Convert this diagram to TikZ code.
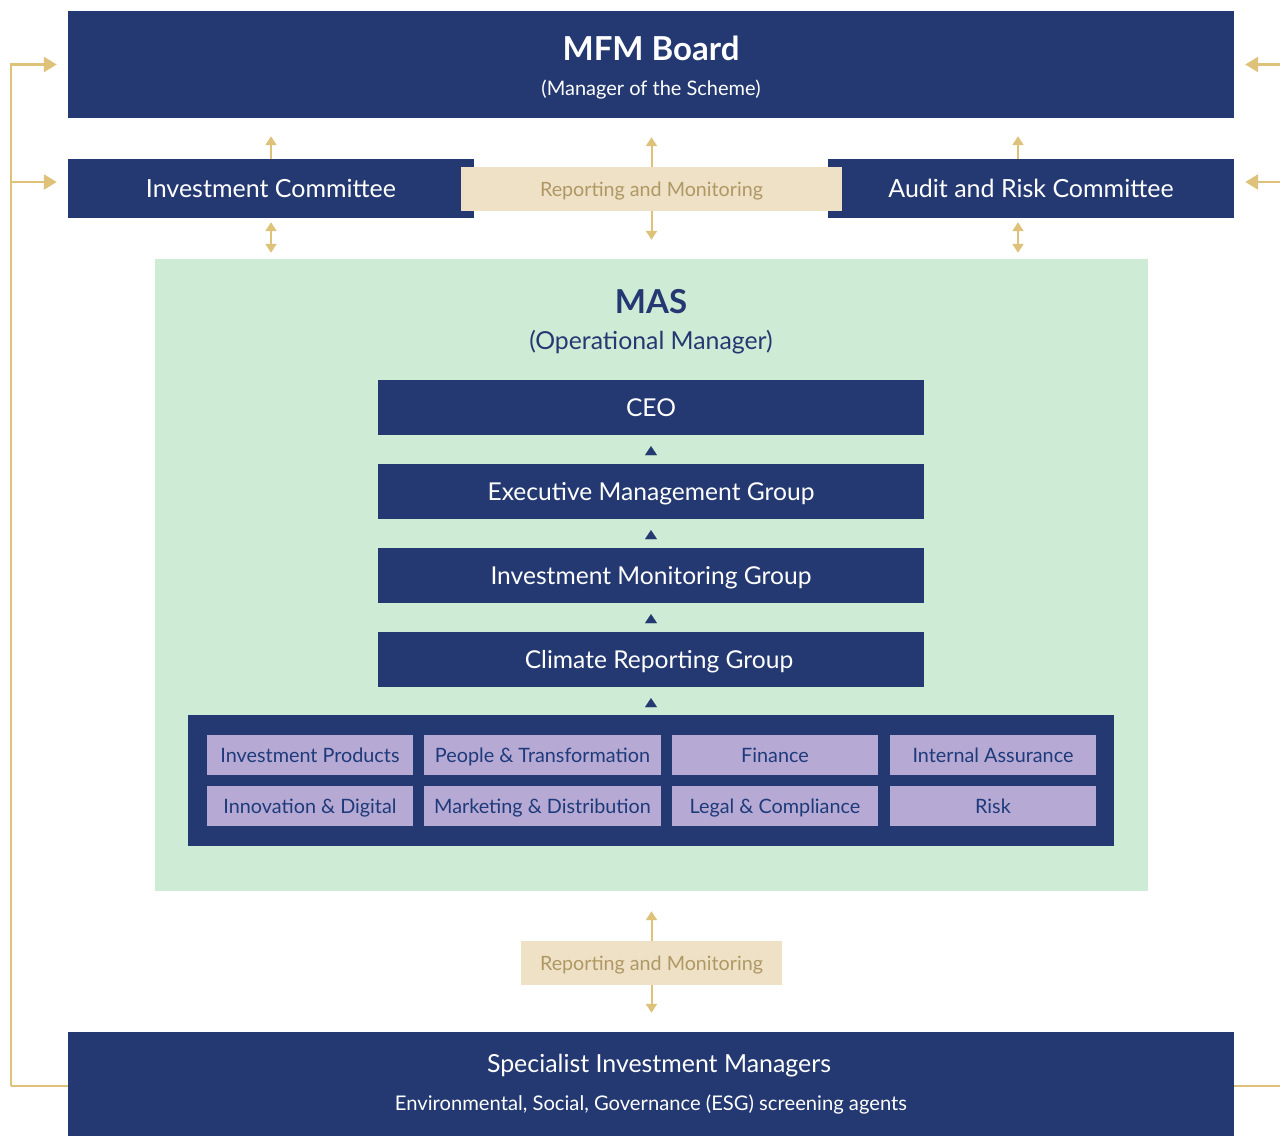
\documentclass[tikz,border=0pt]{standalone}
\usepackage{fontspec}
\setmainfont{Lato}
\usetikzlibrary{arrows.meta}
\definecolor{navy}{RGB}{36,57,113}
\definecolor{gold}{RGB}{222,194,122}
\definecolor{mint}{RGB}{206,235,214}
\definecolor{lav}{RGB}{182,170,212}
\definecolor{sand}{RGB}{238,225,198}
\definecolor{sandtext}{RGB}{176,152,100}
\definecolor{deptext}{RGB}{30,58,122}
\newcommand{\fs}[1]{\fontsize{#1}{#1}\selectfont}
\tikzset{
  capc/.style={text height=#1, text depth=0pt},
  navybox/.style={fill=navy, draw=none, inner sep=0pt},
  lavbox/.style={fill=lav, draw=none, inner sep=0pt, capc=14.2pt, minimum width=206, minimum height=40, text=deptext, font=\fs{19.8}},
  sandbox/.style={fill=sand, draw=none, inner sep=0pt, capc=14.1pt, minimum height=44, text=sandtext, font=\fs{19.7}},
  rolebox/.style={fill=navy, draw=none, inner sep=0pt, capc=17.6pt, minimum width=546, minimum height=55, text=white, font=\fs{24.6}},
  cmtbox/.style={fill=navy, draw=none, inner sep=0pt, capc=17.9pt, minimum width=406, minimum height=59, text=white, font=\fs{25}},
  wtext/.style={text=white, inner sep=0pt},
  gline/.style={draw=gold, line width=2.5pt},
  sidearrow/.style={draw=gold, line width=2.5pt, -{Triangle[length=13pt,width=15pt]}},
  varrow/.style={draw=gold, line width=2pt, -{Triangle[length=9pt,width=11pt]}},
  dvarrow/.style={draw=gold, line width=2pt, {Triangle[length=9pt,width=11pt]}-{Triangle[length=9pt,width=11pt]}},
  uptri/.style={draw=navy, line width=0.01pt, -{Triangle[length=9pt,width=12pt]}},
}
\begin{document}
\begin{tikzpicture}[x=1pt,y=-1pt]
\useasboundingbox (0,0) rectangle (1280,1136);
% Board
\node[navybox, minimum width=1166, minimum height=107] (board) at (651,64.5) {};
\node[wtext, font=\bfseries\fs{33}] (boardT) at (651,48) {MFM Board};
\node[wtext, font=\fs{20}] (boardS) at (651,90) {(Manager of the Scheme)};
% Committees
\node[cmtbox] (ic) at (271,188.5) {Investment Committee};
\node[cmtbox] (arc) at (1031,188.5) {Audit and Risk Committee};
\node[sandbox, minimum width=381] (rep1) at (651.5,189) {Reporting and Monitoring};
% MAS
\node[fill=mint, draw=none, minimum width=993, minimum height=632, inner sep=0pt] (mas) at (651.5,575) {};
\node[text=navy, inner sep=0pt, font=\bfseries\fs{33}] (masT) at (651,302) {MAS};
\node[text=navy, inner sep=0pt, font=\fs{24.8}] (masS) at (651,342) {(Operational Manager)};
\node[rolebox] (ceo) at (651,407.5) {CEO};
\node[rolebox] (emg) at (651,491.5) {Executive Management Group};
\node[rolebox] (img) at (651,575.5) {Investment Monitoring Group};
\node[rolebox] (crg) at (651,659.5) {\hspace*{16pt}Climate Reporting Group};
% Departments
\node[navybox, minimum width=926, minimum height=131] (dept) at (651,780.5) {};
\node[lavbox] (d1) at (310,755) {Investment Products};
\node[lavbox, minimum width=237] (d2) at (542.5,755) {People \& Transformation};
\node[lavbox] (d3) at (775,755) {Finance};
\node[lavbox] (d4) at (993,755) {Internal Assurance};
\node[lavbox] (d5) at (310,806) {Innovation \& Digital};
\node[lavbox, minimum width=237] (d6) at (542.5,806) {Marketing \& Distribution};
\node[lavbox] (d7) at (775,806) {Legal \& Compliance};
\node[lavbox] (d8) at (993,806) {Risk};
% Bottom
\node[sandbox, minimum width=261] (rep2) at (651.5,963) {Reporting and Monitoring};
\node[navybox, minimum width=1166, minimum height=104] (spec) at (651,1084) {};
\node[wtext, font=\fs{24.9}] (specT) at (659,1066) {Specialist Investment Managers};
\node[wtext, font=\fs{20.2}] (specS) at (651,1104) {Environmental, Social, Governance (ESG) screening agents};
% MAS internal arrows
\draw[uptri, shorten <=11, shorten >=11] (emg.north) -- (ceo.south);
\draw[uptri, shorten <=11, shorten >=11] (img.north) -- (emg.south);
\draw[uptri, shorten <=11, shorten >=11] (crg.north) -- (img.south);
\draw[uptri, shorten <=10, shorten >=11] (dept.north) -- (dept.north |- crg.south);
% Gold vertical arrows
\coordinate (ax) at (1018,0);
\draw[varrow, shorten >=18] (ic.north) -- (ic.north |- board.south);
\draw[varrow, shorten >=19] (rep1.north) -- (rep1.north |- board.south);
\draw[varrow, shorten >=18] (arc.north -| ax) -- (board.south -| ax);
\draw[dvarrow, shorten <=4, shorten >=6] (ic.south) -- (ic.south |- mas.north);
\draw[dvarrow, shorten <=4, shorten >=6] (arc.south -| ax) -- (mas.north -| ax);
\draw[varrow, shorten >=19] (rep1.south) -- (rep1.south |- mas.north);
\draw[varrow, shorten >=20] (rep2.north) -- (rep2.north |- mas.south);
\draw[varrow, shorten >=19] (rep2.south) -- (rep2.south |- spec.north);
% Side connectors
\coordinate (lb) at (11,1086);
\coordinate (lm) at (11,182);
\coordinate (rb) at (1281,1086);
\coordinate (rt) at (1281,64.5);
\coordinate (rm) at (1281,182);
\draw[gline] (spec.west |- lb) -- (lb);
\draw[sidearrow, shorten >=11] (lb) |- (board.west);
\draw[sidearrow, shorten >=11] (lm) -- (lm -| ic.west);
\draw[gline] (spec.east |- rb) -- (rb);
\draw[sidearrow, shorten >=11] (rt) -- (board.east);
\draw[sidearrow, shorten >=11] (rm) -- (rm -| arc.east);
\end{tikzpicture}
\end{document}
